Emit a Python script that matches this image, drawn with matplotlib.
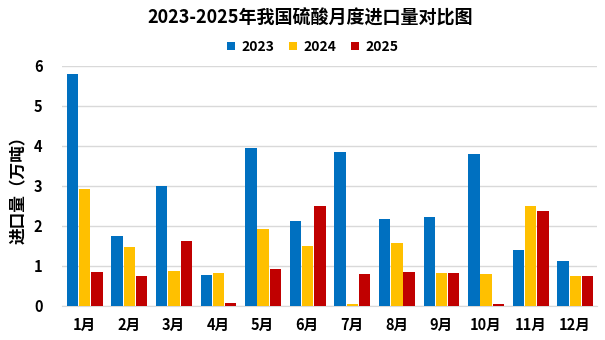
import matplotlib
matplotlib.use("Agg")
import matplotlib.pyplot as plt
import numpy as np

plt.rcParams['font.family'] = ['Noto Sans CJK SC', 'DejaVu Sans']

months = ["1月", "2月", "3月", "4月", "5月", "6月", "7月", "8月", "9月", "10月", "11月", "12月"]
v2023 = [5.80, 1.75, 3.00, 0.78, 3.95, 2.13, 3.85, 2.18, 2.23, 3.80, 1.40, 1.13]
v2024 = [2.93, 1.48, 0.88, 0.83, 1.93, 1.50, 0.05, 1.58, 0.83, 0.80, 2.50, 0.75]
v2025 = [0.86, 0.75, 1.63, 0.08, 0.93, 2.51, 0.80, 0.85, 0.83, 0.05, 2.38, 0.75]
series_names = ["2023", "2024", "2025"]
colors = ["#0070C0", "#FFC000", "#C00000"]

fig = plt.figure(figsize=(6.05, 3.4), dpi=100)
ax = fig.add_axes([0.1025, 0.10, 0.8845, 0.706])

x = np.arange(len(months))
w = 0.255
for i, (vals, name, c) in enumerate(zip([v2023, v2024, v2025], series_names, colors)):
    ax.bar(x + (i - 1) * (w + 0.02) + 0.01, vals, width=w, color=c, label=name, zorder=3)

ax.set_xlim(-0.5, len(months) - 0.5)
ax.set_ylim(0, 6)
ax.set_yticks(range(0, 7))
ax.yaxis.grid(True, color="#d9d9d9", linewidth=1, zorder=0)
for s in ["top", "right", "left"]:
    ax.spines[s].set_visible(False)
ax.spines["bottom"].set_color("#d9d9d9")
ax.tick_params(axis="both", length=0)
ax.tick_params(axis="y", pad=14)
ax.tick_params(axis="x", pad=8)
ax.set_xticks(x)
ax.set_xticklabels(months, fontsize=10.5, fontweight="bold")
for lab in ax.get_yticklabels():
    lab.set_fontsize(10.5)
    lab.set_fontweight("bold")
ax.set_ylabel("进口量（万吨）", fontsize=12, fontweight="bold", labelpad=4)

fig.text(0.512, 0.947, "2023-2025年我国硫酸月度进口量对比图", fontsize=13,
         fontweight="bold", ha="center", va="center")
fig.legend(loc="center", bbox_to_anchor=(0.517, 0.862), ncol=3, frameon=False,
           prop={"weight": "bold", "size": 10}, handlelength=0.55, handleheight=0.55,
           handletextpad=0.45, columnspacing=1.1)

fig.savefig("out.png", dpi=100)
